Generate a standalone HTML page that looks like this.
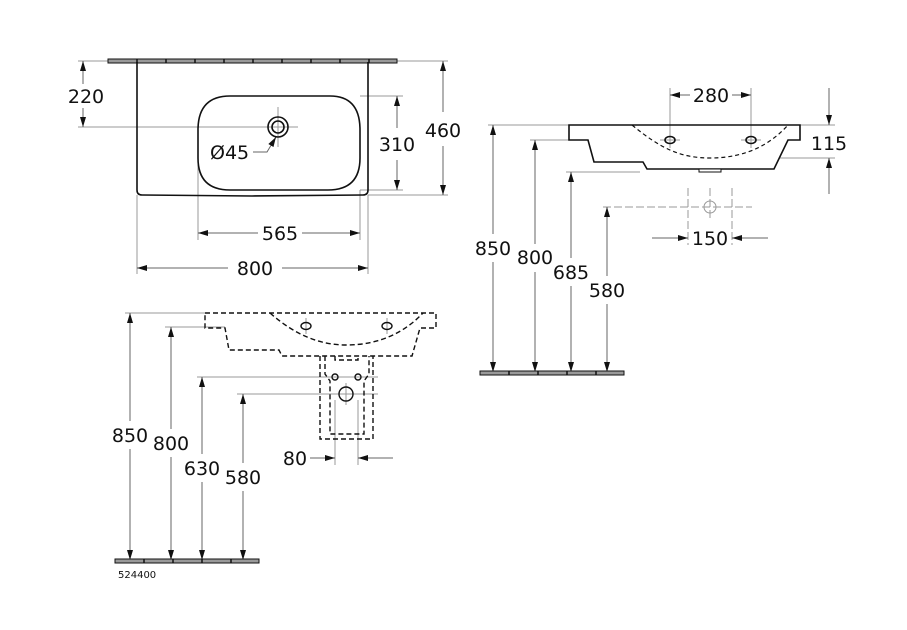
<!DOCTYPE html>
<html><head><meta charset="utf-8"><style>
html,body{margin:0;padding:0;background:#fff}
svg{display:block}
text{font-family:"DejaVu Sans","Liberation Sans",sans-serif;font-size:19px;fill:#111}
</style></head><body>
<svg width="907" height="630" viewBox="0 0 907 630" xmlns="http://www.w3.org/2000/svg">
<defs>
<marker id="a" viewBox="0 0 10 6" refX="10" refY="3" markerWidth="10" markerHeight="6" markerUnits="userSpaceOnUse" orient="auto">
<path d="M0,0 L10,3 L0,6 z" fill="#111"/></marker>
</defs>
<g fill="none" stroke="#999" stroke-width="1">
<line x1="78" y1="61" x2="108" y2="61"/>
<line x1="78" y1="127" x2="298" y2="127"/>
<line x1="278" y1="107" x2="278" y2="147"/>
<line x1="360" y1="96" x2="403" y2="96"/>
<line x1="360" y1="190" x2="403" y2="190"/>
<line x1="397" y1="61" x2="448" y2="61"/>
<line x1="368" y1="195" x2="448" y2="195"/>
<line x1="198" y1="150" x2="198" y2="240"/>
<line x1="360" y1="190" x2="360" y2="240"/>
<line x1="137" y1="195" x2="137" y2="274"/>
<line x1="368" y1="195" x2="368" y2="274"/>
<line x1="488" y1="125" x2="569" y2="125"/>
<line x1="530" y1="140" x2="588" y2="140"/>
<line x1="566" y1="172" x2="640" y2="172"/>
<line x1="603" y1="207" x2="752" y2="207" stroke-dasharray="8 3"/>
<line x1="670" y1="88" x2="670" y2="148"/>
<line x1="751" y1="88" x2="751" y2="148"/>
<line x1="800" y1="125" x2="835" y2="125"/>
<line x1="780" y1="158" x2="835" y2="158"/>
<line x1="688" y1="188" x2="688" y2="245" stroke-dasharray="8 3"/>
<line x1="710" y1="188" x2="710" y2="220" stroke-dasharray="8 3"/>
<line x1="732" y1="188" x2="732" y2="245" stroke-dasharray="8 3"/>
<line x1="652" y1="238" x2="688" y2="238"/>
<line x1="732" y1="238" x2="768" y2="238"/>
<circle cx="710" cy="207" r="6"/>
<line x1="660" y1="140" x2="680" y2="140"/>
<line x1="741" y1="140" x2="761" y2="140"/>
<line x1="125" y1="313" x2="205" y2="313"/>
<line x1="165" y1="327" x2="225" y2="327"/>
<line x1="197" y1="377" x2="378" y2="377"/>
<line x1="237" y1="394" x2="378" y2="394"/>
<line x1="306" y1="318" x2="306" y2="334"/>
<line x1="387" y1="318" x2="387" y2="334"/>
<line x1="346" y1="383" x2="346" y2="405"/>
<line x1="335" y1="400" x2="335" y2="465"/>
<line x1="358" y1="400" x2="358" y2="465"/>
<line x1="310" y1="458" x2="335" y2="458"/>
<line x1="358" y1="458" x2="393" y2="458"/>
</g>
<g stroke="#666" stroke-width="1" fill="none" marker-end="url(#a)">
<line x1="83" y1="84" x2="83" y2="61"/><line x1="83" y1="108" x2="83" y2="127"/>
<line x1="397" y1="128" x2="397" y2="96"/><line x1="397" y1="160" x2="397" y2="190"/>
<line x1="443" y1="112" x2="443" y2="61"/><line x1="443" y1="146" x2="443" y2="195"/>
<line x1="258" y1="233" x2="198" y2="233"/><line x1="302" y1="233" x2="360" y2="233"/>
<line x1="228" y1="268" x2="137" y2="268"/><line x1="282" y1="268" x2="368" y2="268"/>
<line x1="690" y1="95" x2="670" y2="95"/><line x1="732" y1="95" x2="751" y2="95"/>
<line x1="829" y1="88" x2="829" y2="125"/><line x1="829" y1="194" x2="829" y2="158"/>
<line x1="493" y1="234" x2="493" y2="125"/><line x1="493" y1="262" x2="493" y2="372"/>
<line x1="535" y1="244" x2="535" y2="140"/><line x1="535" y1="272" x2="535" y2="372"/>
<line x1="571" y1="258" x2="571" y2="172"/><line x1="571" y1="286" x2="571" y2="372"/>
<line x1="607" y1="276" x2="607" y2="207"/><line x1="607" y1="304" x2="607" y2="372"/>
<line x1="652" y1="238" x2="688" y2="238"/><line x1="768" y1="238" x2="732" y2="238"/>
<line x1="130" y1="421" x2="130" y2="313"/><line x1="130" y1="449" x2="130" y2="560"/>
<line x1="171" y1="429" x2="171" y2="327"/><line x1="171" y1="457" x2="171" y2="560"/>
<line x1="202" y1="454" x2="202" y2="377"/><line x1="202" y1="482" x2="202" y2="560"/>
<line x1="243" y1="463" x2="243" y2="394"/><line x1="243" y1="491" x2="243" y2="560"/>
<line x1="310" y1="458" x2="335" y2="458"/><line x1="393" y1="458" x2="358" y2="458"/>
<polyline points="253,152 267,152 276,137"/>
</g>
<g fill="none" stroke="#111" stroke-width="1.6">
<rect x="108" y="59" width="289" height="4" fill="#999" stroke-width="1"/>
<path d="M137,62 L137,190 Q137,195 142,195 L252,196 L363,195 Q368,195 368,190 L368,62"/>
<path d="M230,96 L330,96 Q360,96 360,130 L360,158 Q360,190 328,190 L230,190 Q198,190 198,158 L198,130 Q198,96 230,96 Z"/>
<circle cx="278" cy="127" r="10"/><circle cx="278" cy="127" r="6"/>
</g>
<g fill="none" stroke="#111" stroke-width="1.6">
<path d="M569,125 L800,125 L800,140 L788,140 L774,169 L647,169 L643,162 L594,162 L588,140 L569,140 Z"/>
<rect x="699" y="169" width="22" height="3" fill="#fff" stroke-width="1"/>
<path d="M632,125 C660,148 680,158 710,158 C745,158 770,145 788,125" stroke-dasharray="4 3" stroke-width="1.2"/>
<ellipse cx="670" cy="140" rx="5" ry="3.5"/><ellipse cx="751" cy="140" rx="5" ry="3.5"/>
<rect x="480" y="371" width="144" height="4" fill="#999" stroke-width="1"/>
</g>
<g fill="none" stroke="#111" stroke-width="1.4" stroke-dasharray="5 3">
<path d="M205,313 L436,313 L436,328 L420,328 L412,356 L282,356 L279,350 L229,350 L225,328 L205,328 Z"/>
<path d="M270,313 C295,335 320,345 346,345 C380,345 405,332 423,313"/>
<path d="M320,356 L320,439 L373,439 L373,356"/>
<path d="M325,356 L325,374 L330,381 L330,434 L364,434 L364,381 L369,374 L369,356"/>
<path d="M335,356 L335,360 L358,360 L358,356"/>
</g>
<g fill="none" stroke="#111" stroke-width="1.4">
<ellipse cx="306" cy="326" rx="5" ry="3.5"/><ellipse cx="387" cy="326" rx="5" ry="3.5"/>
<circle cx="335" cy="377" r="3"/><circle cx="358" cy="377" r="3"/>
<circle cx="346" cy="394" r="7"/>
<rect x="115" y="559" width="144" height="4" fill="#999" stroke-width="1"/>
</g>
<g stroke="#111" stroke-width="1.5">
<line x1="137" y1="59" x2="137" y2="63"/><line x1="166" y1="59" x2="166" y2="63"/><line x1="195" y1="59" x2="195" y2="63"/><line x1="224" y1="59" x2="224" y2="63"/><line x1="253" y1="59" x2="253" y2="63"/><line x1="282" y1="59" x2="282" y2="63"/><line x1="311" y1="59" x2="311" y2="63"/><line x1="340" y1="59" x2="340" y2="63"/><line x1="369" y1="59" x2="369" y2="63"/>
<line x1="509" y1="371" x2="509" y2="375"/><line x1="538" y1="371" x2="538" y2="375"/><line x1="567" y1="371" x2="567" y2="375"/><line x1="596" y1="371" x2="596" y2="375"/>
<line x1="144" y1="559" x2="144" y2="563"/><line x1="173" y1="559" x2="173" y2="563"/><line x1="202" y1="559" x2="202" y2="563"/><line x1="231" y1="559" x2="231" y2="563"/>
</g>
<g text-anchor="middle">
<text x="86" y="103">220</text>
<text x="397" y="151">310</text>
<text x="443" y="137">460</text>
<text x="280" y="240">565</text>
<text x="255" y="275">800</text>
<text x="711" y="102">280</text>
<text x="829" y="150">115</text>
<text x="493" y="255">850</text>
<text x="535" y="264">800</text>
<text x="571" y="279">685</text>
<text x="607" y="297">580</text>
<text x="710" y="245">150</text>
<text x="130" y="442">850</text>
<text x="171" y="450">800</text>
<text x="202" y="475">630</text>
<text x="243" y="484">580</text>
<text x="295" y="465">80</text>
</g>
<text x="210" y="159">Ø45</text>
<text x="118" y="578" style="font-size:10px">524400</text>
</svg>
</body></html>
